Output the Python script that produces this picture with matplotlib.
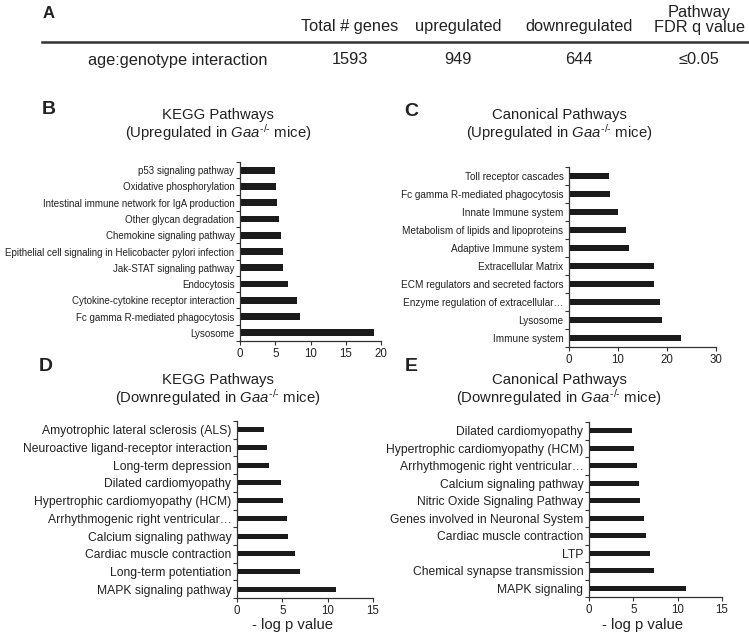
import matplotlib
matplotlib.use("Agg")
import matplotlib.pyplot as plt
from matplotlib.lines import Line2D

# ============================
# Data
# ============================

table_cols = ["Total # genes", "upregulated", "downregulated", "Pathway\nFDR q value"]
table_row_name = "age:genotype interaction"
table_row_vals = ["1593", "949", "644", "\u22640.05"]

kegg_up_labels = [
    "p53 signaling pathway",
    "Oxidative phosphorylation",
    "Intestinal immune network for IgA production",
    "Other glycan degradation",
    "Chemokine signaling pathway",
    "Epithelial cell signaling in Helicobacter pylori infection",
    "Jak-STAT signaling pathway",
    "Endocytosis",
    "Cytokine-cytokine receptor interaction",
    "Fc gamma R-mediated phagocytosis",
    "Lysosome",
]
kegg_up_values = [5.0, 5.1, 5.2, 5.6, 5.8, 6.1, 6.1, 6.8, 8.1, 8.5, 19.0]

canon_up_labels = [
    "Toll receptor cascades",
    "Fc gamma R-mediated phagocytosis",
    "Innate Immune system",
    "Metabolism of lipids and lipoproteins",
    "Adaptive Immune system",
    "Extracellular Matrix",
    "ECM regulators and secreted factors",
    "Enzyme regulation of extracellular\u2026",
    "Lysosome",
    "Immune system",
]
canon_up_values = [8.2, 8.4, 9.9, 11.7, 12.3, 17.3, 17.4, 18.6, 19.0, 22.8]

kegg_down_labels = [
    "Amyotrophic lateral sclerosis (ALS)",
    "Neuroactive ligand-receptor interaction",
    "Long-term depression",
    "Dilated cardiomyopathy",
    "Hypertrophic cardiomyopathy (HCM)",
    "Arrhythmogenic right ventricular\u2026",
    "Calcium signaling pathway",
    "Cardiac muscle contraction",
    "Long-term potentiation",
    "MAPK signaling pathway",
]
kegg_down_values = [3.0, 3.3, 3.5, 4.9, 5.1, 5.5, 5.6, 6.4, 6.9, 10.9]

canon_down_labels = [
    "Dilated cardiomyopathy",
    "Hypertrophic cardiomyopathy (HCM)",
    "Arrhythmogenic right ventricular\u2026",
    "Calcium signaling pathway",
    "Nitric Oxide Signaling Pathway",
    "Genes involved in Neuronal System",
    "Cardiac muscle contraction",
    "LTP",
    "Chemical synapse transmission",
    "MAPK signaling",
]
canon_down_values = [4.9, 5.1, 5.4, 5.6, 5.8, 6.2, 6.4, 6.9, 7.3, 10.9]

# ============================
# Style
# ============================

plt.rcParams["font.family"] = ["Liberation Sans", "DejaVu Sans"]
plt.rcParams["mathtext.fontset"] = "custom"
plt.rcParams["mathtext.rm"] = "Liberation Sans"
plt.rcParams["mathtext.it"] = "Liberation Sans:italic"
plt.rcParams["mathtext.bf"] = "Liberation Sans:bold"

W, H = 749, 635
fig = plt.figure(figsize=(W / 100, H / 100), dpi=100)

txt = "#222222"
bar_color = "#1b1b1b"
spine_color = "#333333"


def fx(px):
    return px / W


def fy(py):
    return 1 - py / H


# ============================
# Panel A (table)
# ============================

fig.text(fx(49), fy(13), "A", fontsize=12, fontweight="bold", ha="center", va="center", color=txt)

col_x = [350, 458, 579, 699]
for x, c in zip(col_x, table_cols):
    if "\n" in c:
        fig.text(fx(x), fy(20), c, fontsize=11.8, ha="center", va="center",
                 color=txt, linespacing=1.05)
    else:
        fig.text(fx(x), fy(26), c, fontsize=11.8, ha="center", va="center", color=txt)

fig.add_artist(Line2D([fx(42), 1.0], [fy(42), fy(42)], color="#333333", lw=1.8))

fig.text(fx(178), fy(60), table_row_name, fontsize=11.8, ha="center", va="center", color=txt)
for x, v in zip(col_x, table_row_vals):
    fig.text(fx(x), fy(60), v, fontsize=11.8, ha="center", va="center", color=txt)


# ============================
# Bar panels
# ============================

def bar_panel(box, labels, values, xmax, xstep, bar_h, label_size):
    left, top, right, bottom = box
    ax = fig.add_axes([fx(left), fy(bottom), fx(right - left), (bottom - top) / H])
    n = len(labels)
    pos = list(range(n))
    ax.barh(pos, values, height=bar_h, color=bar_color)
    ax.set_ylim(n - 0.5, -0.5)
    ax.set_xlim(0, xmax)
    ax.set_xticks(list(range(0, xmax + 1, xstep)))
    ax.set_yticks([i - 0.5 for i in range(n + 1)])
    ax.set_yticklabels([])
    ax.set_yticks(pos, minor=True)
    ax.set_yticklabels(labels, minor=True, fontsize=label_size, color=txt)
    ax.tick_params(axis="y", which="major", direction="out", length=3, width=0.8, color=spine_color)
    ax.tick_params(axis="y", which="minor", length=0, pad=4)
    ax.tick_params(axis="x", direction="out", length=3, width=0.8, color=spine_color,
                   labelsize=8.3, labelcolor=txt, pad=2)
    for s in ["top", "right"]:
        ax.spines[s].set_visible(False)
    for s in ["left", "bottom"]:
        ax.spines[s].set_color(spine_color)
        ax.spines[s].set_linewidth(0.9)
    return ax


bar_panel((240, 162, 381, 341), kegg_up_labels, kegg_up_values, 20, 5, 0.42, 7.05)
bar_panel((569, 167, 716, 347), canon_up_labels, canon_up_values, 30, 10, 0.3, 7.2)
bar_panel((237, 421, 373, 598), kegg_down_labels, kegg_down_values, 15, 5, 0.28, 8.7)
bar_panel((589, 422, 722, 597), canon_down_labels, canon_down_values, 15, 5, 0.29, 8.7)

# panel letters
for (x, y, s) in [(49, 110, "B"), (411, 111, "C"), (46, 367, "D"), (411, 367, "E")]:
    fig.text(fx(x), fy(y), s, fontsize=14, fontweight="bold", ha="center", va="center", color=txt)

# titles
sup = "$\\mathit{Gaa}^{\\text{-/-}}$"
titles = [
    (218, 115, "KEGG Pathways", "(Upregulated in " + sup + " mice)"),
    (559, 115, "Canonical Pathways", "(Upregulated in " + sup + " mice)"),
    (218, 380, "KEGG Pathways", "(Downregulated in " + sup + " mice)"),
    (559, 380, "Canonical Pathways", "(Downregulated in " + sup + " mice)"),
]
for x, y, t1, t2 in titles:
    fig.text(fx(x), fy(y), t1, fontsize=10.7, ha="center", va="center", color=txt)
    fig.text(fx(x), fy(y + 18), t2, fontsize=10.7, ha="center", va="center", color=txt)

# x labels
fig.text(fx(292), fy(625), "- log p value", fontsize=10.7, ha="center", va="center", color=txt)
fig.text(fx(642), fy(625), "- log p value", fontsize=10.7, ha="center", va="center", color=txt)

fig.savefig("out.png", dpi=100)
